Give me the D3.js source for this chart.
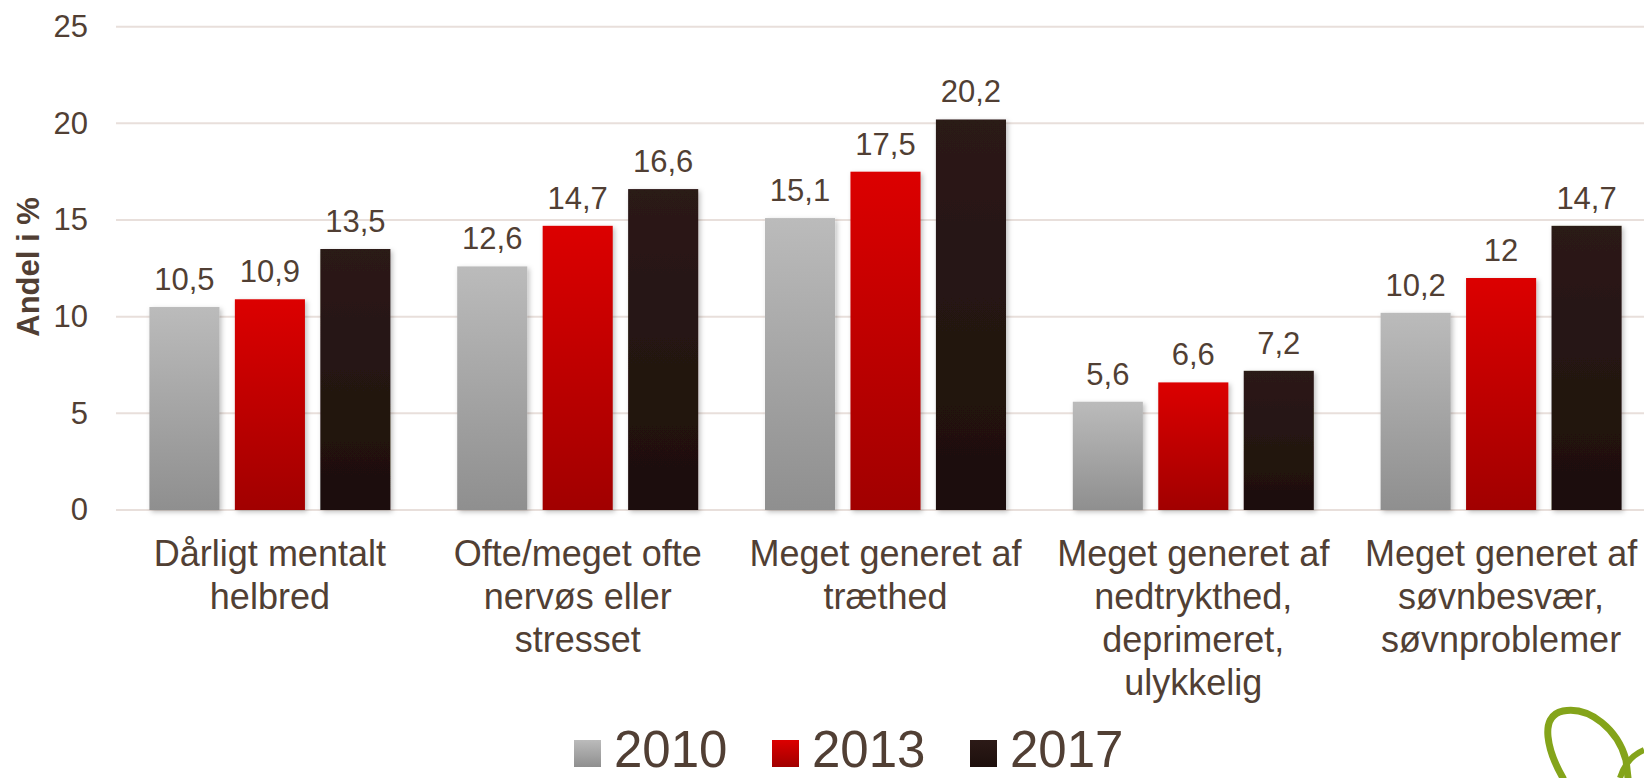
<!DOCTYPE html>
<html>
<head>
<meta charset="utf-8">
<script src="https://cdn.jsdelivr.net/npm/d3@7"></script>
<style>
  body { margin: 0; background: #fff; }
  svg { display: block; font-family: "Liberation Sans", Arial, sans-serif; }
</style>
</head>
<body>
<svg id="chart" width="1644" height="778"></svg>
<script>
// data
var categories = [
  ["Dårligt mentalt", "helbred"],
  ["Ofte/meget ofte", "nervøs eller", "stresset"],
  ["Meget generet af", "træthed"],
  ["Meget generet af", "nedtrykthed,", "deprimeret,", "ulykkelig"],
  ["Meget generet af", "søvnbesvær,", "søvnproblemer"]
];
var years = ["2010", "2013", "2017"];
var values2010 = [10.5, 12.6, 15.1, 5.6, 10.2];
var values2013 = [10.9, 14.7, 17.5, 6.6, 12];
var values2017 = [13.5, 16.6, 20.2, 7.2, 14.7];
var yTicks = [0, 5, 10, 15, 20, 25];

var series = [values2010, values2013, values2017];
var textCol = "#513f34";
var grads = [["#bbbbbb", "#8f8f8f"], ["#dc0000", "#a10000"], ["#2c1a17", "#1d0f0c"]];

var svg = d3.select("#chart");
var defs = svg.append("defs");
grads.forEach(function(g, i){
    var lg = defs.append("linearGradient").attr("id", "g" + i)
        .attr("x1", 0).attr("y1", 0).attr("x2", 0).attr("y2", 1);
    lg.append("stop").attr("offset", "0%").attr("stop-color", g[0]);
    lg.append("stop").attr("offset", "100%").attr("stop-color", g[1]);
});
defs.append("filter").attr("id", "shadow")
    .attr("x", "-20%").attr("y", "-10%").attr("width", "140%").attr("height", "120%")
  .append("feDropShadow")
    .attr("dx", 2).attr("dy", 2).attr("stdDeviation", 2.5)
    .attr("flood-color", "#000").attr("flood-opacity", 0.25);

var y = d3.scaleLinear().domain([0, 25]).range([510, 26.7]);
var x0 = d3.scaleBand().domain(d3.range(categories.length))
    .range([116, 1655]).paddingInner(0.217).paddingOuter(0.1085);
var x1 = d3.scaleBand().domain(years).range([0, x0.bandwidth()]).paddingInner(0.18);

// gridlines
svg.append("g").selectAll("line").data(yTicks).enter().append("line")
    .attr("x1", 116).attr("x2", 1644)
    .attr("y1", function(d){ return y(d); }).attr("y2", function(d){ return y(d); })
    .attr("stroke", "#e8dfdb").attr("stroke-width", 2);

// y axis labels
var yAxis = d3.axisLeft(y).tickValues(yTicks).tickSize(0).tickPadding(0);
var ya = svg.append("g").attr("transform", "translate(88,0)").call(yAxis);
ya.select(".domain").remove();
ya.selectAll("text").attr("fill", textCol).style("font-size", "31px")
    .attr("font-family", "Liberation Sans, Arial, sans-serif");

svg.append("text")
    .attr("transform", "translate(39,267) rotate(-90)")
    .attr("text-anchor", "middle")
    .attr("fill", textCol).style("font-size", "31px").style("font-weight", "bold")
    .text("Andel i %");

// bars
var groups = svg.append("g").selectAll("g").data(categories).enter().append("g")
    .attr("transform", function(d, i){ return "translate(" + x0(i) + ",0)"; });

groups.each(function(d, ci){
    var g = d3.select(this);
    var pts = years.map(function(yr, si){ return {year: yr, s: si, v: series[si][ci]}; });
    g.selectAll("rect").data(pts).enter().append("rect")
        .attr("x", function(p){ return x1(p.year); })
        .attr("y", function(p){ return y(p.v); })
        .attr("width", x1.bandwidth())
        .attr("height", function(p){ return y(0) - y(p.v); })
        .attr("fill", function(p){ return "url(#g" + p.s + ")"; })
        .attr("filter", "url(#shadow)");
    g.selectAll("text.val").data(pts).enter().append("text")
        .attr("class", "val")
        .attr("x", function(p){ return x1(p.year) + x1.bandwidth() / 2; })
        .attr("y", function(p){ return y(p.v) - 17; })
        .attr("text-anchor", "middle")
        .attr("fill", textCol).style("font-size", "31px")
        .text(function(p){ return String(p.v).replace(".", ","); });
    var lab = g.append("text").attr("text-anchor", "middle")
        .attr("fill", textCol).style("font-size", "36px");
    d.forEach(function(line, li){
        lab.append("tspan").attr("x", x0.bandwidth() / 2).attr("y", 566 + li * 43).text(line);
    });
});

// legend
var leg = svg.append("g").selectAll("g").data(years).enter().append("g")
    .attr("transform", function(d, i){ return "translate(" + (574 + i * 198) + ",0)"; });
leg.append("rect").attr("x", 0).attr("y", 740).attr("width", 27).attr("height", 27)
    .attr("fill", function(d, i){ return "url(#g" + i + ")"; });
leg.append("text").attr("x", 40).attr("y", 767)
    .attr("fill", textCol).style("font-size", "51px")
    .text(function(d){ return d; });

// green logo corner
svg.append("path")
    .attr("d", "M1563,778 C1548,752 1538,716 1563,711 C1590,706 1618,730 1626,760 L1628,778")
    .attr("fill", "none").attr("stroke", "#84a41a").attr("stroke-width", 7)
    .attr("stroke-linecap", "round");
svg.append("path")
    .attr("d", "M1620,778 C1624,765 1632,755 1644,750")
    .attr("fill", "none").attr("stroke", "#84a41a").attr("stroke-width", 6);
</script>
</body>
</html>
